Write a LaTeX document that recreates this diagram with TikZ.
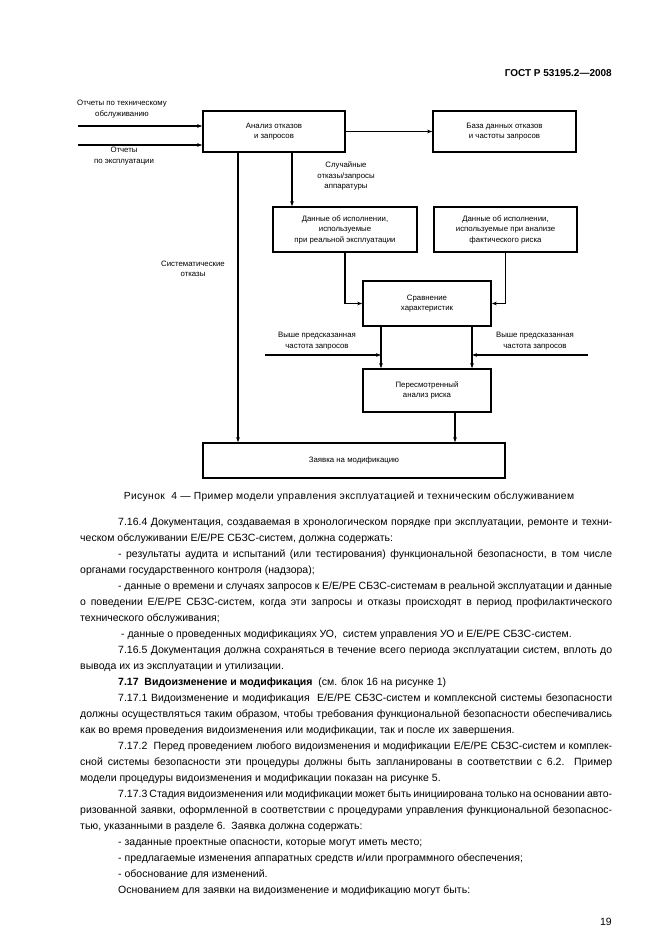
\documentclass[tikz,border=0pt]{standalone}
\usepackage{fontspec}
\setmainfont{Liberation Sans}
\usetikzlibrary{arrows.meta}
\newcommand{\dtxt}{\fontsize{7.8}{10.5}\selectfont}
\newcommand{\btxt}{\fontsize{10.5}{12}\selectfont}
\newcommand{\jt}[2]{\hbox to #1pt{\spaceskip=0.278em plus 1em minus 0.14em\relax #2}}
\begin{document}
\begin{tikzpicture}[x=1pt,y=-1pt,
  box/.style={draw, line width=1.6pt, inner sep=0pt, align=center, font=\dtxt},
  conn/.style={line width=1.2pt, -{Stealth[length=5pt,width=3.6pt]}},
  lbl/.style={align=center, font=\dtxt, inner sep=0pt},
  bodytxt/.style={inner sep=0pt, font=\btxt, anchor=base west}]
\useasboundingbox[fill=white] (0,0) rectangle (661,936);

% header
\node[anchor=base east, inner sep=0pt, font=\bfseries\fontsize{10}{12}\selectfont] (hdr) at (612,77) {ГОСТ Р 53195.2—2008};

% boxes
\node[box, minimum width=142, minimum height=41] (ana) at (274,131.5) {Анализ отказов\\и запросов};
\node[box, minimum width=143, minimum height=41] (db) at (504.5,131.5) {База данных отказов\\и частоты запросов};
\node[box, minimum width=144, minimum height=45] (d1) at (345,229.5) {Данные об исполнении,\\используемые\\при реальной эксплуатации};
\node[box, minimum width=143, minimum height=45] (d2) at (505.5,229.5) {Данные об исполнении,\\используемые при анализе\\фактического риска};
\node[box, minimum width=128, minimum height=45] (cmp) at (427,303.5) {Сравнение\\характеристик};
\node[box, minimum width=128, minimum height=43] (rev) at (427,390.5) {Пересмотренный\\анализ риска};
\node[box, minimum width=302, minimum height=35] (zay) at (354,460.5) {Заявка на модификацию};

% labels
\node[lbl] (t1) at (122,109) {Отчеты по техническому\\обслуживанию};
\node[lbl] (t2) at (124,156) {Отчеты\\по эксплуатации};
\node[lbl] (t3) at (346,176) {Случайные\\отказы/запросы\\аппаратуры};
\node[lbl] (t4) at (193,269) {Систематические\\отказы};
\node[lbl] (t5) at (317,341) {Выше предсказанная\\частота запросов};
\node[lbl] (t6) at (535,341) {Выше предсказанная\\частота запросов};

% coordinates
\coordinate (in1) at (78,126);
\coordinate (in2) at (78,145);
\coordinate (sx) at (238,0);
\coordinate (rx) at (292,0);
\coordinate (lv) at (381,0);
\coordinate (rv) at (472,0);
\coordinate (ox) at (455,0);
\coordinate (hl) at (265,355);
\coordinate (hr) at (588,355);

% connectors
\draw[conn] (in1) -- (in1 -| ana.west);
\draw[conn] (in2) -- (in2 -| ana.west);
\draw[conn] (ana.east) -- (db.west);
\draw[conn] (ana.south -| rx) -- (d1.north -| rx);
\draw[conn] (ana.south -| sx) -- (zay.north -| sx);
\draw[conn] (d1.south) |- (cmp.west);
\draw[conn] (d2.south) |- (cmp.east);
\draw[conn] (cmp.south -| lv) -- (rev.north -| lv);
\draw[conn] (cmp.south -| rv) -- (rev.north -| rv);
\draw[conn] (hl) -- (hl -| lv);
\draw[conn] (hr) -- (hr -| rv);
\draw[conn] (rev.south -| ox) -- (zay.north -| ox);

% caption
\node[anchor=base, inner sep=0pt, font=\fontsize{10.3}{11}\selectfont\addfontfeature{LetterSpace=3.5}] (cap) at (349,499) {Рисунок\ \ 4 — Пример модели управления эксплуатацией и техническим обслуживанием};

% body text
\node[bodytxt] (l0) at (118,525) {\jt{494}{7.16.4 Документация, создаваемая в хронологическом порядке при эксплуатации, ремонте и техни-}};
\node[bodytxt] (l1) at (80,541) {ческом обслуживании E/E/PE СБЗС-систем, должна содержать:};
\node[bodytxt] (l2) at (118,557) {\jt{494}{- результаты аудита и испытаний (или тестирования) функциональной безопасности, в том числе}};
\node[bodytxt] (l3) at (80,573) {органами государственного контроля (надзора);};
\node[bodytxt] (l4) at (118,589) {\jt{494}{- данные о времени и случаях запросов к E/E/PE СБЗС-системам в реальной эксплуатации и данные}};
\node[bodytxt] (l5) at (80,605) {\jt{532}{о поведении E/E/PE СБЗС-систем, когда эти запросы и отказы происходят в период профилактического}};
\node[bodytxt] (l6) at (80,621) {технического обслуживания;};
\node[bodytxt] (l7) at (121,637) {- данные о проведенных модификациях УО,\ \ систем управления УО и E/E/PE СБЗС-систем.};
\node[bodytxt] (l8) at (118,653) {\jt{494}{7.16.5 Документация должна сохраняться в течение всего периода эксплуатации систем, вплоть до}};
\node[bodytxt] (l9) at (80,669) {вывода их из эксплуатации и утилизации.};
\node[bodytxt] (l10) at (118,685) {\textbf{7.17\ \ Видоизменение и модификация}\ \ (см. блок 16 на рисунке 1)};
\node[bodytxt] (l11) at (118,701) {\jt{494}{7.17.1 Видоизменение и модификация\ \ E/E/PE СБЗС-систем и комплексной системы безопасности}};
\node[bodytxt] (l12) at (80,717) {\jt{532}{должны осуществляться таким образом, чтобы требования функциональной безопасности обеспечивались}};
\node[bodytxt] (l13) at (80,733) {как во время проведения видоизменения или модификации, так и после их завершения.};
\node[bodytxt] (l14) at (118,749) {\jt{494}{7.17.2\ \ Перед проведением любого видоизменения и модификации E/E/PE СБЗС-систем и комплек-}};
\node[bodytxt] (l15) at (80,765) {\jt{532}{сной системы безопасности эти процедуры должны быть запланированы в соответствии с 6.2. Пример}};
\node[bodytxt] (l16) at (80,781) {модели процедуры видоизменения и модификации показан на рисунке 5.};
\node[bodytxt] (l17) at (118,797) {\jt{494}{7.17.3 Стадия видоизменения или модификации может быть инициирована только на основании авто-}};
\node[bodytxt] (l18) at (80,813) {\jt{532}{ризованной заявки, оформленной в соответствии с процедурами управления функциональной безопаснос-}};
\node[bodytxt] (l19) at (80,829) {тью, указанными в разделе 6.\ \ Заявка должна содержать:};
\node[bodytxt] (l20) at (118,845) {- заданные проектные опасности, которые могут иметь место;};
\node[bodytxt] (l21) at (118,861) {- предлагаемые изменения аппаратных средств и/или программного обеспечения;};
\node[bodytxt] (l22) at (118,877) {- обоснование для изменений.};
\node[bodytxt] (l23) at (118,893) {Основанием для заявки на видоизменение и модификацию могут быть:};

% page number
\node[anchor=base east, inner sep=0pt, font=\btxt] (pg) at (612,925) {19};
\end{tikzpicture}
\end{document}
